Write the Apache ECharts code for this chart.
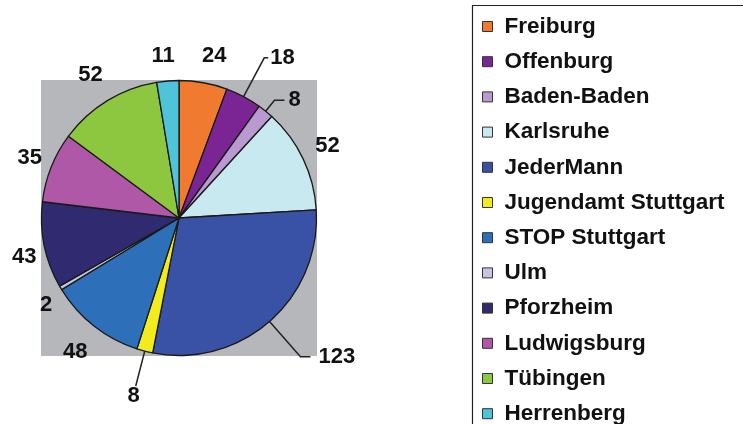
<!DOCTYPE html>
<html>
<head>
<meta charset="utf-8">
<style>
  html, body { margin: 0; padding: 0; background: #fff; }
  #chart { width: 743px; height: 424px; }
</style>
<script src="https://cdn.jsdelivr.net/npm/echarts@6/dist/echarts.min.js"></script>
</head>
<body>
<div id="chart"></div>
<script>
const names = ['Freiburg', 'Offenburg', 'Baden-Baden', 'Karlsruhe', 'JederMann', 'Jugendamt Stuttgart',
  'STOP Stuttgart', 'Ulm', 'Pforzheim', 'Ludwigsburg', 'Tübingen', 'Herrenberg'];
const values = [24, 18, 8, 52, 123, 8, 48, 2, 43, 35, 52, 11];
const colors = ['#f07a30', '#7b2595', '#b99ad0', '#c8e9f0', '#3a52a5', '#f2ec1f',
  '#2e6fba', '#c5c5e0', '#302a70', '#b058a8', '#8dc63f', '#4fc3d8'];

// label placement per slice: [line length, line length2, distance, show line, drop below line]
const labelPlace = [
  [27, 0, -6, false, false],
  [44, 4, 2, true, false],
  [14, 10, 4, true, false],
  [29, 0, -14, false, false],
  [47, 10, 8, true, false],
  [36, 0, -4, true, true],
  [33, 0, -14, false, false],
  [33, 0, -20, false, false],
  [57, 0, -48, false, false],
  [24, 0, -13, false, false],
  [30, 0, -11, false, false],
  [25, 0, -9, false, false]
];

const chart = echarts.init(document.getElementById('chart'));

const data = names.map((n, i) => {
  const p = labelPlace[i];
  const label = { distanceToLabelLine: p[2] };
  if (p[4]) {
    // push the number under the end of its line
    label.formatter = '\n{c}';
    label.lineHeight = 20;
  }
  return {
    name: n,
    value: values[i],
    itemStyle: { color: colors[i] },
    label: label,
    labelLine: { show: p[3], length: p[0], length2: p[1] }
  };
});

chart.setOption({
  animation: false,
  graphic: [
    { type: 'rect', z: -10, shape: { x: 41, y: 80, width: 276, height: 276 }, style: { fill: '#b5b7bb' } },
    { type: 'rect', z: -10, shape: { x: 472.5, y: 5.5, width: 320, height: 460 },
      style: { fill: 'none', stroke: '#222', lineWidth: 1.2 } }
  ],
  legend: {
    orient: 'vertical',
    left: 472,
    top: 5,
    height: 600,
    padding: [10, 10, 10, 10],
    itemWidth: 10,
    itemHeight: 10,
    itemGap: 12.2,
    icon: 'rect',
    selectedMode: false,
    itemStyle: { borderColor: '#333', borderWidth: 1 },
    textStyle: {
      fontFamily: 'Liberation Sans, Arial, sans-serif',
      fontWeight: 'bold',
      fontSize: 22.5,
      lineHeight: 22,
      color: '#111',
      padding: [0, 0, 0, 7]
    },
    data: names
  },
  series: [{
    type: 'pie',
    center: [179, 218],
    radius: 137.5,
    startAngle: 90,
    clockwise: true,
    avoidLabelOverlap: false,
    itemStyle: { borderColor: '#1a1a1a', borderWidth: 1.3 },
    label: {
      show: true,
      position: 'outside',
      formatter: '{c}',
      fontFamily: 'Liberation Sans, Arial, sans-serif',
      fontWeight: 'bold',
      fontSize: 22,
      color: '#111'
    },
    labelLine: { lineStyle: { color: '#222', width: 1.5 } },
    emphasis: { disabled: true },
    data: data
  }]
});
</script>
</body>
</html>
